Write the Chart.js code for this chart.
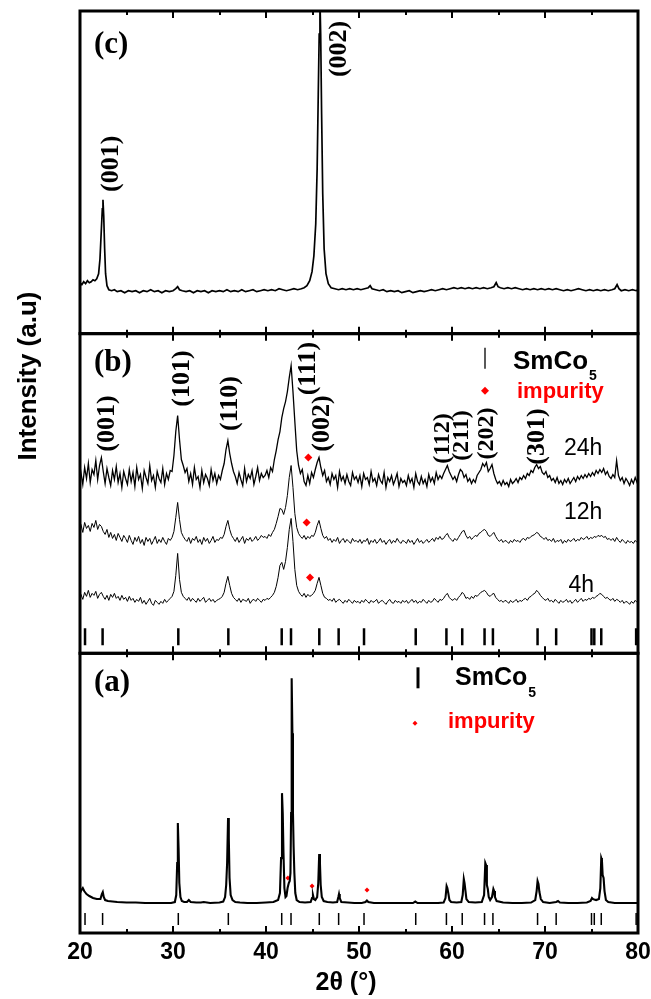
<!DOCTYPE html>
<html><head><meta charset="utf-8">
<script src="https://cdn.jsdelivr.net/npm/chart.js@4"></script>
<style>html,body{margin:0;padding:0;background:#fff}canvas{display:block}</style>
</head><body>
<canvas id="c" width="651" height="999"></canvas>
<script>
// ---------- x axis ----------
const xMajorTicks = [20, 30, 40, 50, 60, 70, 80];
const xMinorTicks = [25, 35, 45, 55, 65, 75];

// ---------- panel (c) : oriented film ----------
const panelC_2theta = [20.0,20.2,20.4,20.6,20.8,21.0,21.2,21.4,21.6,21.8,22.0,22.15,22.3,22.4,22.47,22.55,22.65,22.75,22.9,23.1,23.4,23.7,24.0,24.4,24.8,25.2,25.6,26.0,26.4,26.8,27.2,27.6,28.0,28.4,28.8,29.2,29.6,30.0,30.3,30.5,30.7,31.0,31.4,31.8,32.2,32.6,33.0,33.4,33.8,34.2,34.6,35.0,35.4,35.8,36.2,36.6,37.0,37.4,37.8,38.2,38.6,39.0,39.4,39.8,40.2,40.6,41.0,41.4,41.8,42.2,42.6,43.0,43.4,43.8,44.1,44.4,44.7,44.95,45.15,45.35,45.5,45.62,45.72,45.8,45.88,45.98,46.1,46.25,46.45,46.7,47.0,47.4,47.8,48.2,48.6,49.0,49.4,49.8,50.2,50.6,51.0,51.2,51.4,51.8,52.2,52.6,53.0,53.4,53.8,54.2,54.6,55.0,55.4,55.8,56.2,56.6,57.0,57.4,57.8,58.2,58.6,59.0,59.4,59.8,60.2,60.6,61.0,61.4,61.8,62.2,62.6,63.0,63.4,63.8,64.2,64.5,64.75,64.95,65.2,65.6,66.0,66.4,66.8,67.2,67.6,68.0,68.4,68.8,69.2,69.6,70.0,70.4,70.8,71.2,71.6,72.0,72.4,72.8,73.2,73.6,74.0,74.4,74.8,75.2,75.6,76.0,76.4,76.8,77.2,77.5,77.75,77.95,78.2,78.6,79.0,79.4,79.8,80.0];
const panelC_intensity = [51,49,52,50,53,51,52,54,53,55,60,75,105,125,134,118,85,60,48,44,43,44,42,43,41,43,42,43,41,43,42,44,42,43,41,43,42,43,45,47,44,43,42,43,41,43,42,43,41,43,42,43,42,44,42,43,42,44,42,43,44,42,43,44,43,44,43,45,44,43,44,45,44,45,46,48,53,62,78,110,165,240,300,335,300,220,140,85,60,50,46,45,44,45,44,45,44,45,44,45,46,48,45,44,43,44,42,43,42,43,41,42,43,41,42,43,42,43,44,43,44,45,44,45,46,45,46,45,46,45,46,45,46,45,46,47,51,47,46,45,46,45,46,45,44,45,44,45,44,45,44,45,44,45,44,43,44,43,44,45,44,43,44,43,44,43,44,43,44,45,49,45,43,44,43,44,43,44];

// ---------- panel (b) : milled powders (scan start / step) ----------
const scanStart = 19.9, scanStep = 0.2;
const int24h = [
172,181,169,186,175,190,171,184,179,193,174,188,196,182,170,185,176,168,183,174,187,171,180,166,182,
175,169,184,172,181,167,186,174,179,165,183,176,170,188,173,178,166,182,175,171,185,169,180,174,183,
182,198,222,238,214,194,188,181,185,172,180,169,186,174,177,166,183,171,179,175,168,184,173,180,170,
178,174,183,190,204,213,200,190,182,177,170,181,174,168,185,172,179,175,183,169,177,186,173,180,176,
178,183,176,186,182,194,203,214,222,236,245,252,262,276,288,262,232,203,188,180,184,172,168,178,170,
181,176,184,191,196,186,178,183,172,176,169,180,174,178,166,182,173,177,170,179,172,168,181,174,177,
171,178,167,180,174,176,169,182,172,175,168,179,173,170,181,166,176,172,178,169,174,180,167,175,171,
173,168,178,171,175,166,180,172,169,177,170,174,167,179,172,176,170,181,174,178,175,180,184,188,182,
178,174,177,172,179,184,182,176,179,172,175,170,174,171,178,181,184,190,187,191,182,185,189,180,174,
170,172,168,173,169,171,167,174,170,172,175,171,176,174,178,175,180,178,183,181,186,189,185,187,181,
179,182,176,178,173,175,171,176,170,173,169,174,171,175,170,173,176,172,177,174,178,175,179,176,180,
177,181,178,183,180,184,181,185,179,182,177,175,179,176,193,178,173,176,170,175,172,168,174,170,176,
171,174];
const int12h = [
124,129,121,131,125,128,122,130,126,133,124,129,127,122,119,124,116,121,115,119,113,120,116,112,118,
115,111,118,113,109,116,112,117,110,114,108,116,112,115,109,113,117,110,114,111,116,112,109,115,113,
116,122,136,151,134,121,117,114,112,116,110,115,113,117,111,114,109,116,112,115,110,113,117,111,114,
113,116,115,119,127,133,124,118,115,112,116,111,114,117,110,115,113,116,112,114,117,113,115,118,116,
117,115,119,117,121,124,130,137,145,144,139,146,158,176,188,166,140,126,120,117,115,118,114,117,115,
118,117,121,128,133,125,118,115,117,113,115,111,114,112,116,110,113,115,111,114,112,110,115,112,113,
111,114,110,113,112,115,109,113,111,114,110,112,115,111,113,109,112,114,110,113,111,115,112,110,113,
112,110,114,111,113,109,112,115,111,113,110,112,114,111,113,115,112,116,114,117,114,115,118,120,116,
114,112,115,113,116,119,122,123,118,115,117,114,116,118,117,120,121,123,124,122,118,117,119,121,117,
114,112,114,111,113,112,110,113,111,114,112,113,111,114,115,113,116,115,117,118,119,121,120,117,116,
114,116,113,114,112,115,111,113,112,114,110,113,111,114,112,113,115,112,114,113,116,114,115,117,114,
116,115,117,116,118,117,118,116,117,114,115,113,115,112,116,113,111,114,112,110,113,111,112,110,113,
111,112];
const int4h = [
55,59,54,61,57,63,56,60,58,62,55,59,61,57,54,58,53,59,56,60,55,57,53,58,54,
56,52,57,53,55,51,54,52,56,50,53,49,52,55,50,48,53,51,49,52,50,54,51,53,55,
57,62,78,100,74,61,57,55,53,56,52,55,53,51,55,52,54,56,51,53,55,52,54,51,53,
54,55,57,61,70,77,68,60,56,54,52,55,51,54,53,52,55,50,53,54,52,55,53,51,54,
53,55,54,56,58,61,67,76,88,91,84,92,106,124,135,112,84,68,62,59,57,60,56,59,57,
58,60,63,70,76,68,60,56,55,53,54,52,55,51,53,54,52,50,53,51,54,52,50,53,51,
52,50,53,51,54,52,50,53,51,52,54,50,52,53,51,49,52,54,51,50,53,51,52,50,53,
51,53,50,52,54,51,53,50,52,51,54,52,50,53,51,52,55,53,51,54,53,55,58,60,56,
54,53,55,53,56,58,61,59,55,56,54,57,55,58,57,59,61,62,63,61,58,57,59,60,56,
54,52,53,51,53,52,50,53,51,52,54,51,53,52,54,55,53,56,57,59,60,63,61,58,56,
54,53,55,52,53,51,54,52,50,53,51,52,54,51,53,50,52,54,51,53,55,52,54,53,55,
54,56,55,57,58,60,59,57,55,56,54,53,55,52,54,53,51,53,50,52,51,49,52,50,53,
51,52];
const impurityB_2theta = [44.55, 44.37, 44.73];
const impurityB_int = [196, 131, 76];
const refLevelB = 16.5;

// ---------- panel (a) : starting SmCo5 powder ----------
const panelA_2theta = [20.0,20.15,20.3,20.45,20.7,21.0,21.4,21.8,22.2,22.35,22.45,22.55,22.7,23.0,23.5,24.0,25.0,26.0,27.0,28.0,29.0,29.8,30.2,30.35,30.45,30.52,30.6,30.68,30.8,30.95,31.2,31.5,31.7,31.9,32.5,33.0,33.3,34.0,35.0,35.4,35.6,35.72,35.82,35.92,36.0,36.08,36.2,36.4,36.7,37.2,38.0,39.0,40.0,40.8,41.3,41.5,41.62,41.72,41.8,41.88,41.98,42.1,42.2,42.32,42.45,42.55,42.63,42.7,42.76,42.84,42.9,42.97,43.05,43.15,43.3,43.6,44.2,44.8,44.95,45.05,45.15,45.3,45.5,45.62,45.72,45.8,45.88,46.0,46.2,46.6,47.2,47.65,47.78,47.85,47.93,48.1,48.8,49.5,50.3,50.7,50.85,51.0,51.6,53.0,54.5,55.8,56.05,56.3,57.5,58.5,59.1,59.3,59.42,59.5,59.6,59.72,59.9,60.5,61.0,61.15,61.27,61.35,61.45,61.55,61.8,62.5,63.2,63.45,63.58,63.66,63.75,63.85,63.95,64.1,64.3,64.45,64.53,64.62,64.8,65.5,66.5,67.5,68.5,68.95,69.1,69.2,69.3,69.4,69.55,69.8,70.5,71.2,71.4,71.6,72.5,73.5,74.5,74.9,75.05,75.15,75.3,75.5,75.8,75.95,76.05,76.12,76.2,76.3,76.4,76.55,76.8,77.5,78.5,79.5,80.0];
const panelA_intensity = [40,43,45,42,39,37,35,34,34,39,41,36,33,32,31.5,31,30.5,30.5,30,30,30,30,31,38,70,110,85,50,36,32,31,31,33,31,30.5,30.5,31,30,30.5,31.5,36,48,70,115,95,55,38,33,31,30.5,30,30,30.5,31,33,40,75,140,120,80,45,36,37,45,50,52,60,120,255,200,120,86,60,40,33,31,30.5,31,35,38,34,33,36,50,79,70,48,36,32,31,30.5,31,36,39,35,31,30.5,30,30,31,32.5,31,30,30,30,30,31.5,30,30,30,30.5,35,47,45,40,33,31,30.5,31,38,54,50,42,34,31,30.5,31,38,70,68,48,44,36,33,36,44,42,36,32,30.5,30,30,30.5,33,42,52,49,41,34,31,30,31,32,30.5,30,30,30.5,32,35,34,33.5,33,34,45,75,73,58,55,42,33,31,30,30,30,30];
const impurityA_2theta = [42.35, 44.95, 50.86];
const impurityA_int = [55, 47, 43];
const refLevelA = 14;

// ---------- SmCo5 reference reflections ----------
const smco5Reflections = [20.54, 22.43, 30.57, 35.95, 41.69, 42.69, 45.73, 47.81, 50.54, 56.1, 59.4, 61.1, 63.5, 64.4, 69.2, 71.2, 75.0, 75.3, 76.05, 79.8];

// ---------- text annotations ----------
const hklC = ['(001)', '(002)'];
const hklC_2theta = [23.33, 47.85];
const hklC_int = [170, 285];
const hklB = ['(001)', '(101)', '(110)', '(111)', '(002)', '(112)', '(211)', '(202)', '(301)'];
const hklB_2theta = [22.9, 30.97, 36.13, 44.52, 46.02, 59.03, 61.08, 63.76, 69.14];
const hklB_int = [230, 275, 250, 285, 230, 215, 218, 220, 217];
const timeLabels = ['24h', '12h', '4h'];
const timeLabels_2theta = [74.1, 74.1, 73.9];
const timeLabels_int = [205, 141, 68];

// ---------- build datasets ----------
const pts = (xs, ys) => xs.map((x, i) => ({x, y: ys[i]}));
const scan = ys => ys.map((y, i) => ({x: +(scanStart + i * scanStep).toFixed(2), y}));
const lineDs = (data, axis, w) => ({type: 'line', data, yAxisID: axis, borderColor: '#000', borderWidth: w, pointRadius: 0, tension: 0, fill: false});
const stickDs = (axis, level, r, w) => ({type: 'scatter', data: smco5Reflections.map(x => ({x, y: level})), yAxisID: axis, pointStyle: 'line', rotation: 90, pointRadius: r, pointBorderWidth: w, borderColor: '#000', pointBorderColor: '#000', backgroundColor: '#000', showLine: false});
const impDs = (xs, ys, axis, r) => ({type: 'scatter', data: pts(xs, ys), yAxisID: axis, pointStyle: 'rectRot', pointRadius: r, backgroundColor: '#ff0000', pointBackgroundColor: '#ff0000', pointBorderColor: '#ff0000', pointBorderWidth: 0, showLine: false});

const SANS = "'Liberation Sans', Arial, sans-serif";
const SERIF = "'Liberation Serif', 'Times New Roman', serif";

function drawText(ctx, str, x, y, font, color, align, base, rot) {
  ctx.save();
  ctx.translate(x, y);
  if (rot) ctx.rotate(rot);
  ctx.font = font; ctx.fillStyle = color;
  ctx.textAlign = align || 'center'; ctx.textBaseline = base || 'middle';
  ctx.fillText(str, 0, 0);
  ctx.restore();
}

const deco = {
  id: 'deco',
  afterDatasetsDraw(chart) {
    const ctx = chart.ctx, xs = chart.scales.x;
    const L = chart.chartArea.left, R = chart.chartArea.right;
    const panels = ['yC', 'yB', 'yA'].map(id => chart.scales[id]);
    ctx.save();
    // inside tick marks on top and bottom of each panel
    ctx.strokeStyle = '#000'; ctx.lineWidth = 2;
    panels.forEach(s => {
      [[xMajorTicks, 7], [xMinorTicks, 4]].forEach(([arr, len]) => {
        arr.forEach(t => {
          const px = Math.round(xs.getPixelForValue(t));
          ctx.beginPath();
          ctx.moveTo(px, s.top); ctx.lineTo(px, s.top + len);
          ctx.moveTo(px, s.bottom); ctx.lineTo(px, s.bottom - len);
          ctx.stroke();
        });
      });
    });
    // frames
    ctx.lineWidth = 3;
    panels.forEach(s => ctx.strokeRect(L, s.top, R - L, s.bottom - s.top));
    ctx.restore();

    const [yC, yB, yA] = panels;
    // panel letters
    drawText(ctx, '(c)', 94, yC.top + 34, 'bold 31px ' + SERIF, '#000', 'left');
    drawText(ctx, '(b)', 94, yB.top + 29, 'bold 31px ' + SERIF, '#000', 'left');
    drawText(ctx, '(a)', 94, yA.top + 30, 'bold 31px ' + SERIF, '#000', 'left');
    // hkl labels
    hklC.forEach((t, i) => drawText(ctx, t, xs.getPixelForValue(hklC_2theta[i]), yC.getPixelForValue(hklC_int[i]), 'bold 26px ' + SERIF, '#000', 'center', 'middle', -Math.PI / 2));
    hklB.forEach((t, i) => drawText(ctx, t, xs.getPixelForValue(hklB_2theta[i]), yB.getPixelForValue(hklB_int[i]), (i >= 5 && i <= 7 ? 'bold 24px ' : 'bold 26px ') + SERIF, '#000', 'center', 'middle', -Math.PI / 2));
    timeLabels.forEach((t, i) => drawText(ctx, t, xs.getPixelForValue(timeLabels_2theta[i]), yB.getPixelForValue(timeLabels_int[i]), '23px ' + SANS, '#000'));

    // legend (b)
    ctx.save();
    ctx.strokeStyle = '#222'; ctx.lineWidth = 1.5;
    ctx.beginPath(); ctx.moveTo(485, yB.top + 14); ctx.lineTo(485, yB.top + 35); ctx.stroke();
    ctx.fillStyle = '#ff0000';
    ctx.beginPath(); ctx.moveTo(485, yB.top + 53); ctx.lineTo(489, yB.top + 57); ctx.lineTo(485, yB.top + 61); ctx.lineTo(481, yB.top + 57); ctx.closePath(); ctx.fill();
    ctx.restore();
    ctx.save(); ctx.font = 'bold 26px ' + SANS; const wB = ctx.measureText('SmCo').width; ctx.restore();
    drawText(ctx, 'SmCo', 513, yB.top + 28, 'bold 26px ' + SANS, '#000', 'left');
    drawText(ctx, '5', 513 + wB + 1, yB.top + 42, 'bold 14px ' + SANS, '#000', 'left');
    drawText(ctx, 'impurity', 517, yB.top + 58, 'bold 22px ' + SANS, '#ff0000', 'left');

    // legend (a)
    ctx.save();
    ctx.strokeStyle = '#000'; ctx.lineWidth = 3;
    ctx.beginPath(); ctx.moveTo(418, yA.top + 14); ctx.lineTo(418, yA.top + 35); ctx.stroke();
    ctx.fillStyle = '#ff0000';
    ctx.beginPath(); ctx.moveTo(415, yA.top + 67.5); ctx.lineTo(417.5, yA.top + 70); ctx.lineTo(415, yA.top + 72.5); ctx.lineTo(412.5, yA.top + 70); ctx.closePath(); ctx.fill();
    ctx.restore();
    ctx.save(); ctx.font = 'bold 25px ' + SANS; const wA = ctx.measureText('SmCo').width; ctx.restore();
    drawText(ctx, 'SmCo', 455, yA.top + 25, 'bold 25px ' + SANS, '#000', 'left');
    drawText(ctx, '5', 455 + wA + 1, yA.top + 40, 'bold 14px ' + SANS, '#000', 'left');
    drawText(ctx, 'impurity', 448, yA.top + 69, 'bold 22px ' + SANS, '#ff0000', 'left');

    // axis titles
    drawText(ctx, 'Intensity (a.u)', 29, 376, 'bold 26px ' + SANS, '#000', 'center', 'middle', -Math.PI / 2);
    drawText(ctx, '2\u03b8 (\u00b0)', 346, 983, 'bold 25px ' + SANS, '#000');
  }
};

const hiddenY = (max, weight) => ({
  type: 'linear', position: 'left', stack: 'panels', stackWeight: weight, min: 0, max: max,
  display: true, ticks: {display: false}, grid: {display: false, drawTicks: false}, border: {display: false},
  afterFit(s) { s.width = 0; }
});

new Chart(document.getElementById('c'), {
  data: {
    datasets: [
      lineDs(pts(panelC_2theta, panelC_intensity), 'yC', 1.7),
      lineDs(scan(int24h), 'yB', 1.3),
      lineDs(scan(int12h), 'yB', 1),
      lineDs(scan(int4h), 'yB', 1),
      stickDs('yB', refLevelB, 8.5, 2.5),
      impDs(impurityB_2theta, impurityB_int, 'yB', 4),
      lineDs(pts(panelA_2theta, panelA_intensity), 'yA', 2.1),
      stickDs('yA', refLevelA, 6, 1.5),
      impDs(impurityA_2theta, impurityA_int, 'yA', 2.5)
    ]
  },
  options: {
    responsive: false, animation: false, devicePixelRatio: 1,
    layout: {padding: {left: 80, right: 13, top: 10, bottom: 0}},
    plugins: {legend: {display: false}, tooltip: {enabled: false}},
    scales: {
      x: {
        type: 'linear', position: 'bottom', min: 20, max: 80,
        afterBuildTicks(s) { s.ticks = xMajorTicks.map(v => ({value: v})); },
        ticks: {color: '#000', padding: 6, font: {family: SANS, weight: 'bold', size: 23}, maxRotation: 0},
        grid: {display: false, drawTicks: false}, border: {display: false},
        afterFit(s) { s.height = 66; s.paddingLeft = 0; s.paddingRight = 0; }
      },
      yA: hiddenY(280, 280),
      yB: hiddenY(320, 320),
      yC: hiddenY(323, 323)
    }
  },
  plugins: [deco]
});
</script>
</body></html>
